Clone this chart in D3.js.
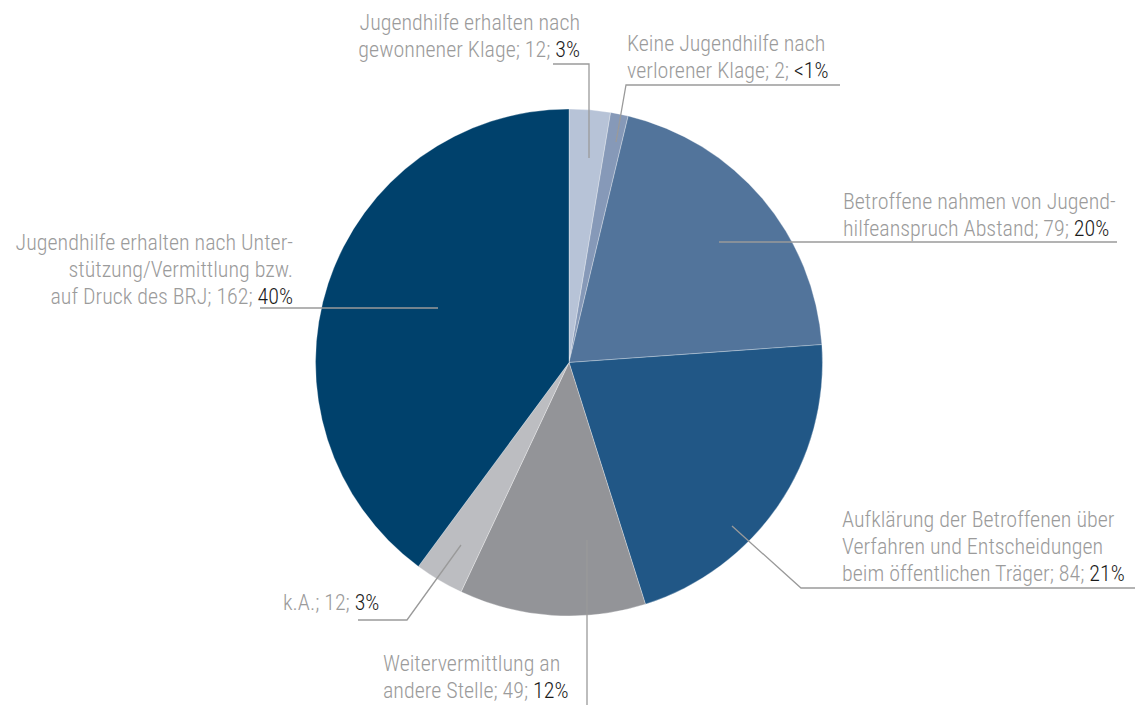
<!DOCTYPE html>
<html>
<head>
<meta charset="utf-8">
<script src="https://cdn.jsdelivr.net/npm/d3@7"></script>
<style>
  html, body { margin: 0; padding: 0; background: #fff; }
  svg text { font-family: "Liberation Sans Narrow", "Roboto Condensed", "Arial Narrow", sans-serif; font-size: 22px; font-weight: 300; }
</style>
</head>
<body>
<svg></svg>
<script>
// category texts, one entry per slice, clockwise from 12 o'clock
var categories = [
  ['Jugendhilfe erhalten nach', 'gewonnener Klage'],
  ['Keine Jugendhilfe nach', 'verlorener Klage'],
  ['Betroffene nahmen von Jugend-', 'hilfeanspruch Abstand'],
  ['Aufklärung der Betroffenen über', 'Verfahren und Entscheidungen', 'beim öffentlichen Träger'],
  ['Weitervermittlung an', 'andere Stelle'],
  ['k.A.'],
  ['Jugendhilfe erhalten nach Unter-', 'stützung/Vermittlung bzw.', 'auf Druck des BRJ']
];
var counts = [12, 2, 79, 84, 49, 12, 162];
var percentLabels = ['3%', '<1%', '20%', '21%', '12%', '3%', '40%'];
// slice sizes as drawn in the figure (the tiny slice is drawn a bit larger)
var sliceSizes = [10.5, 4.5, 80.5, 85, 47.5, 12.5, 159.5];
var sliceColors = ['#b7c3d7', '#8699b8', '#52749b', '#215786', '#939498', '#bcbdc1', '#00416c'];

var W = 1144, H = 705;
var cx = 569, cy = 362.5, R = 253.5;
var LINE_H = 27;
var GRAY = '#9b9b9b', DARK = '#1b1b1b';

// label placement: text anchor, x, first baseline, leader polyline
var labelLayout = [
  {anchor: 'end',   x: 580, y: 30,  leader: [[589, 158], [589, 64], [553, 64]]},
  {anchor: 'start', x: 627, y: 51,  leader: [[616, 142], [626, 85], [840, 85]]},
  {anchor: 'start', x: 843, y: 209, leader: [[719, 242], [1117, 242]]},
  {anchor: 'start', x: 842, y: 527, leader: [[732, 526], [801, 588], [1135, 588]]},
  {anchor: 'start', x: 383, y: 671, leader: [[587, 540], [587, 705]]},
  {anchor: 'start', x: 283, y: 610, leader: [[461, 545], [407, 620], [358, 620]]},
  {anchor: 'end',   x: 293, y: 250, leader: [[438, 308], [260, 308]]}
];

var svg = d3.select('svg').attr('width', W).attr('height', H);

var pie = d3.pie().sort(null).value(function(d) { return d; });
var arc = d3.arc().innerRadius(0).outerRadius(R);

var g = svg.append('g').attr('transform', 'translate(' + cx + ',' + cy + ')');
g.selectAll('path').data(pie(sliceSizes)).enter().append('path')
  .attr('d', arc)
  .attr('fill', function(d, i) { return sliceColors[i]; })
  .attr('stroke', 'rgba(255,255,255,0.5)')
  .attr('stroke-width', 0.6);

// leader lines
var line = d3.line();
svg.append('g').selectAll('path').data(labelLayout).enter().append('path')
  .attr('d', function(d) { return line(d.leader); })
  .attr('fill', 'none')
  .attr('stroke', '#9a9a9a')
  .attr('stroke-width', 1.3);

// labels
categories.forEach(function(lines, i) {
  var lay = labelLayout[i];
  var t = svg.append('text')
    .attr('text-anchor', lay.anchor)
    .attr('fill', GRAY);
  lines.forEach(function(s, j) {
    var last = j === lines.length - 1;
    t.append('tspan')
      .attr('x', lay.x)
      .attr('y', lay.y + j * LINE_H)
      .text(last ? s + '; ' + counts[i] + '; ' : s);
    if (last) {
      t.append('tspan').attr('fill', DARK).text(percentLabels[i]);
    }
  });
});
</script>
</body>
</html>
